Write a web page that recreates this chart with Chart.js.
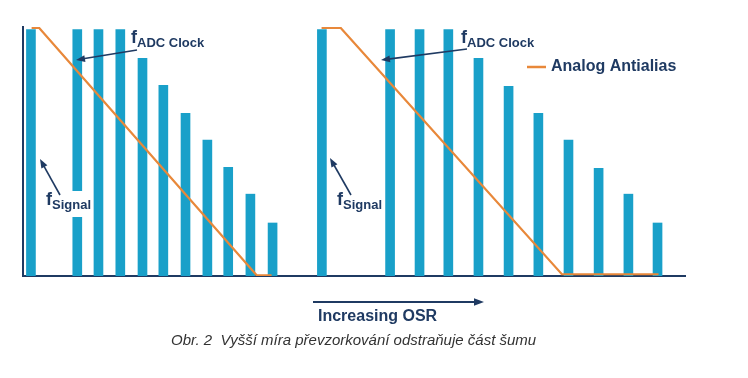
<!DOCTYPE html>
<html><head><meta charset="utf-8">
<script src="https://cdn.jsdelivr.net/npm/chart.js@4"></script>
<style>html,body{margin:0;padding:0;background:#fff;}canvas{display:block;}</style>
</head><body>
<canvas id="c" width="748" height="378"></canvas>
<script>
// ---- data (x in relative frequency units 0..100, y in relative amplitude) ----
const lowOsrPositions  = [1.2, 8.2, 11.4, 14.7, 18.05, 21.2, 24.55, 27.85, 31.0, 34.35, 37.7];
const lowOsrLevels     = [100, 100, 100, 100, 88.3, 77.3, 66, 55.1, 44.1, 33.2, 21.5];
const highOsrPositions = [45.15, 55.45, 59.9, 64.25, 68.8, 73.35, 77.85, 82.4, 86.95, 91.45, 95.85];
const highOsrLevels    = [100, 100, 100, 100, 88.3, 76.9, 66, 55.1, 43.7, 33.2, 21.5];
const lowOsrFilterX  = [1.3, 2.45, 35.3, 37.55];
const lowOsrFilterY  = [100.6, 100.6, 0.3, 0.3];
const highOsrFilterX = [45.1, 48.0, 81.4, 96.0];
const highOsrFilterY = [100.6, 100.6, 0.7, 0.7];
const seriesLabel = 'Analog Antialias';
const clockMain = 'f', clockSub = 'ADC Clock';
const signalMain = 'f', signalSub = 'Signal';
const axisTitle = 'Increasing OSR';
const caption = 'Obr. 2  Vyšší míra převzorkování odstraňuje část šumu';

const NAVY = '#1f3a62', CYAN = '#19a0c9', ORANGE = '#e8883a';

const toPts = (xs, ys) => xs.map((x, i) => ({x, y: ys[i]}));
const barPts = toPts(lowOsrPositions, lowOsrLevels).concat(toPts(highOsrPositions, highOsrLevels));

function arrow(ctx, x1, y1, x2, y2, head, w) {
  const a = Math.atan2(y2 - y1, x2 - x1);
  ctx.save();
  ctx.strokeStyle = NAVY; ctx.fillStyle = NAVY; ctx.lineWidth = w;
  ctx.beginPath(); ctx.moveTo(x1, y1);
  ctx.lineTo(x2 - Math.cos(a) * head * 0.8, y2 - Math.sin(a) * head * 0.8); ctx.stroke();
  ctx.beginPath(); ctx.moveTo(x2, y2);
  ctx.lineTo(x2 - head * Math.cos(a) + head * 0.38 * Math.sin(a), y2 - head * Math.sin(a) - head * 0.38 * Math.cos(a));
  ctx.lineTo(x2 - head * Math.cos(a) - head * 0.38 * Math.sin(a), y2 - head * Math.sin(a) + head * 0.38 * Math.cos(a));
  ctx.closePath(); ctx.fill();
  ctx.restore();
}
function subLabel(ctx, main, sub, x, y, bg) {
  ctx.save();
  ctx.font = 'bold 18px "Liberation Sans", Arial, sans-serif';
  const mw = ctx.measureText(main).width;
  ctx.font = 'bold 13px "Liberation Sans", Arial, sans-serif';
  const sw = ctx.measureText(sub).width;
  if (bg) { ctx.fillStyle = '#fff'; ctx.fillRect(x - 2, y - 14, mw + sw + 4, 26); }
  ctx.fillStyle = NAVY; ctx.textBaseline = 'alphabetic'; ctx.textAlign = 'left';
  ctx.font = 'bold 18px "Liberation Sans", Arial, sans-serif';
  ctx.fillText(main, x, y);
  ctx.font = 'bold 13px "Liberation Sans", Arial, sans-serif';
  ctx.fillText(sub, x + mw, y + 4);
  ctx.restore();
}

const annotations = {
  id: 'annotations',
  afterDatasetsDraw(chart) {
    const ctx = chart.ctx;
    subLabel(ctx, clockMain, clockSub, 131, 43, false);
    arrow(ctx, 137, 50, 76, 60, 9, 1.6);
    subLabel(ctx, clockMain, clockSub, 461, 43, false);
    arrow(ctx, 467, 49, 381, 60, 9, 1.6);
    subLabel(ctx, signalMain, signalSub, 46, 205, true);
    arrow(ctx, 60, 195, 40, 159, 9, 1.6);
    subLabel(ctx, signalMain, signalSub, 337, 205, false);
    arrow(ctx, 351, 195, 330, 158, 9, 1.6);
    ctx.save();
    ctx.strokeStyle = ORANGE; ctx.lineWidth = 2.5;
    ctx.beginPath(); ctx.moveTo(527, 67); ctx.lineTo(546, 67); ctx.stroke();
    ctx.fillStyle = NAVY; ctx.font = 'bold 16px "Liberation Sans", Arial, sans-serif';
    ctx.textBaseline = 'middle'; ctx.fillText(seriesLabel, 551, 67);
    arrow(ctx, 313, 302, 484, 302, 10, 2);
    ctx.fillStyle = NAVY; ctx.font = 'bold 16px "Liberation Sans", Arial, sans-serif';
    ctx.fillText(axisTitle, 318, 317);
    ctx.fillStyle = '#333'; ctx.font = 'italic 15px "Liberation Sans", Arial, sans-serif';
    ctx.fillText(caption, 171, 341);
    ctx.restore();
  }
};

new Chart(document.getElementById('c'), {
  type: 'bar',
  data: {
    datasets: [
      { type: 'line', label: seriesLabel, data: toPts(lowOsrFilterX, lowOsrFilterY), borderColor: ORANGE, borderWidth: 2.2, pointRadius: 0, tension: 0, order: 0 },
      { type: 'line', label: seriesLabel, data: toPts(highOsrFilterX, highOsrFilterY), borderColor: ORANGE, borderWidth: 2.2, pointRadius: 0, tension: 0, order: 0 },
      { type: 'bar', label: 'Spectrum', data: barPts, backgroundColor: CYAN, barThickness: 9, order: 1 }
    ]
  },
  options: {
    responsive: false, animation: false, devicePixelRatio: 1,
    layout: { padding: { left: 23, right: 63, top: 27, bottom: 102 } },
    plugins: { legend: { display: false }, tooltip: { enabled: false } },
    scales: {
      x: { type: 'linear', min: 0, max: 100, offset: false,
           ticks: { display: false }, grid: { display: false, drawTicks: false },
           border: { display: true, color: NAVY, width: 2 } },
      y: { type: 'linear', min: 0, max: 101,
           ticks: { display: false }, grid: { display: false, drawTicks: false },
           border: { display: true, color: NAVY, width: 2 } }
    }
  },
  plugins: [annotations]
});
</script>
</body></html>
